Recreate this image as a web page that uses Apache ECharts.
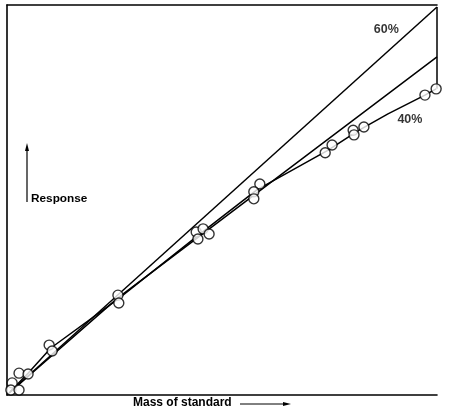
<!DOCTYPE html>
<html>
<head>
<meta charset="utf-8">
<script src="https://cdn.jsdelivr.net/npm/echarts@6/dist/echarts.min.js"></script>
<style>html,body{margin:0;padding:0;background:#fff}#c{width:450px;height:408px}</style>
</head>
<body>
<div id="c"></div>
<script>
// Data (relative units)
const line60 = [[0.5, 0.5], [100, 99.5]];
const lineMid = [[0.5, 0.5], [25.8, 24.9], [100, 86.7]];
const line40 = [[0.7, 0.8], [4.9, 5.6], [10.2, 12.05], [25.8, 24.6], [44.9, 41.3], [58.1, 52.6], [74.7, 62.8], [81.6, 67.7], [88.6, 72.1], [97.2, 76.9], [99.8, 78.5]];
const rightEdge = [[100, 78.5], [100, 99.5]];
const pointsX = [1.2, 0.9, 2.8, 2.8, 4.9, 9.8, 10.5, 25.8, 26.0, 44.0, 45.6, 47.0, 44.4, 58.8, 57.4, 57.4, 74.0, 75.6, 80.5, 80.7, 83.0, 97.2, 99.8];
const pointsY = [3.1, 1.3, 1.3, 5.6, 5.4, 12.8, 11.3, 25.6, 23.6, 41.8, 42.6, 41.3, 40.0, 54.1, 52.1, 50.3, 62.1, 64.1, 67.9, 66.7, 68.7, 76.9, 78.5];
const labels = [{text: '60%', x: 88.2, y: 93.8}, {text: '40%', x: 93.7, y: 70.6}];
const xName = 'Mass of standard';
const yName = 'Response';

const chart = echarts.init(document.getElementById('c'), null, {renderer: 'canvas'});
const lineStyle = {color: '#000', width: 1.5};
const font = '"Liberation Sans", Arial, sans-serif';
chart.setOption({
  animation: false,
  backgroundColor: '#fff',
  grid: {left: 7, right: 13, top: 5, bottom: 13, outerBoundsMode: 'none', containLabel: false},
  xAxis: [
    {type: 'value', min: 0, max: 100, position: 'bottom',
     axisLine: {show: true, onZero: false, lineStyle: {color: '#000', width: 1.6}},
     axisTick: {show: false}, axisLabel: {show: false}, splitLine: {show: false},
     name: xName, nameLocation: 'start', nameGap: -126,
     nameTextStyle: {color: '#000', fontFamily: font, fontWeight: 'bold', fontSize: 12, padding: [2, 0, 0, 0], align: 'left', verticalAlign: 'top'}},
    {type: 'value', min: 0, max: 100, position: 'top',
     axisLine: {show: true, onZero: false, lineStyle: {color: '#000', width: 1.6}},
     axisTick: {show: false}, axisLabel: {show: false}, splitLine: {show: false}}
  ],
  yAxis: {type: 'value', min: 0, max: 100, position: 'left',
    axisLine: {show: true, onZero: false, lineStyle: {color: '#000', width: 1.6}},
    axisTick: {show: false}, axisLabel: {show: false}, splitLine: {show: false}},
  series: [
    {type: 'line', data: line60, symbol: 'none', lineStyle: lineStyle, silent: true},
    {type: 'line', data: lineMid, symbol: 'none', lineStyle: lineStyle, silent: true},
    {type: 'line', data: line40, symbol: 'none', lineStyle: lineStyle, silent: true},
    {type: 'line', data: rightEdge, symbol: 'none', lineStyle: lineStyle, silent: true},
    {type: 'scatter', data: pointsX.map((x, i) => [x, pointsY[i]]), symbol: 'circle', symbolSize: 10,
     itemStyle: {color: '#fff', borderColor: '#000', borderWidth: 1.4}, z: 5},
    {type: 'scatter', data: labels.map(l => ({value: [l.x, l.y], name: l.text})), symbolSize: 0,
     label: {show: true, position: 'inside', formatter: p => p.name, color: '#000', fontFamily: font, fontWeight: 'bold', fontSize: 12.5}, z: 6}
  ],
  graphic: [
    {type: 'line', shape: {x1: 27, y1: 202, x2: 27, y2: 149}, style: {stroke: '#000', lineWidth: 1.2}},
    {type: 'polygon', shape: {points: [[27, 143], [25, 151], [29, 151]]}, style: {fill: '#000'}},
    {type: 'text', left: 31, top: 193, style: {text: yName, fill: '#000', font: 'bold 11.8px ' + font}},
    {type: 'line', shape: {x1: 240, y1: 404, x2: 284, y2: 404}, style: {stroke: '#000', lineWidth: 1}},
    {type: 'polygon', shape: {points: [[291, 404], [283, 402], [283, 406]]}, style: {fill: '#000'}}
  ]
});
</script>
</body>
</html>
